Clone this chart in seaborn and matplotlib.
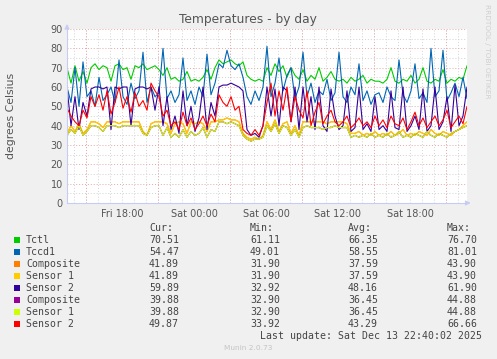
import pandas as pd
import seaborn as sns
import matplotlib.pyplot as plt
import matplotlib.dates as mdates
from matplotlib.patches import Rectangle

# --- data (5 min samples thinned to one every 20 min) ---
start = "2025-12-12 13:25"
step = "20min"

tctl = [70, 62, 71, 63, 68, 62, 70, 72, 69, 71,
        70, 63, 71, 72, 69, 70, 64, 71, 70, 72,
        69, 70, 71, 69, 66, 70, 64, 65, 63, 64,
        68, 63, 64, 63, 65, 69, 64, 70, 74, 72,
        73, 74, 72, 71, 73, 66, 64, 63, 64, 63,
        70, 66, 72, 68, 71, 65, 70, 66, 64, 69,
        63, 66, 64, 70, 63, 65, 68, 64, 63, 64,
        62, 65, 63, 64, 66, 62, 64, 63, 63, 62,
        64, 70, 63, 62, 64, 63, 66, 62, 64, 70,
        63, 62, 64, 63, 69, 62, 64, 63, 65, 64,
        71]
tccd1 = [60, 52, 70, 50, 73, 55, 58, 50, 65, 53,
         56, 60, 52, 74, 55, 51, 62, 54, 58, 78,
         52, 60, 55, 57, 80, 54, 58, 52, 56, 75,
         53, 58, 51, 60, 55, 77, 56, 62, 72, 70,
         79, 71, 69, 72, 65, 55, 51, 58, 53, 60,
         81, 55, 62, 75, 58, 66, 70, 54, 60, 78,
         55, 62, 52, 58, 56, 64, 53, 57, 78, 55,
         52, 60, 56, 72, 53, 58, 51, 56, 57, 52,
         60, 55, 53, 74, 56, 52, 58, 72, 54, 57,
         52, 80, 55, 58, 79, 53, 57, 62, 55, 65,
         54]
nvme1_s1 = [36, 40, 37, 41, 36, 38, 42, 42, 41, 39,
            42, 42, 42, 41, 42, 42, 42, 42, 42, 37,
            35, 41, 42, 42, 42, 41, 36, 41, 42, 41,
            36, 42, 41, 42, 41, 37, 42, 42, 43, 43,
            44, 43, 43, 42, 36, 34, 33, 34, 33, 35,
            42, 38, 43, 37, 41, 42, 36, 40, 35, 42,
            42, 42, 42, 42, 42, 41, 42, 42, 42, 42,
            41, 36, 36, 37, 35, 36, 35, 37, 35, 36,
            35, 37, 35, 36, 38, 35, 36, 35, 37, 36,
            35, 38, 36, 35, 37, 36, 35, 37, 38, 40,
            42]
nvme1_comp = list(nvme1_s1)  # composite == sensor 1
nvme1_s2 = [60, 40, 55, 38, 52, 45, 59, 60, 60, 59,
            60, 38, 60, 59, 60, 60, 40, 59, 60, 60,
            59, 60, 48, 60, 40, 55, 38, 45, 36, 58,
            40, 50, 37, 44, 60, 38, 52, 45, 60, 61,
            61, 62, 61, 60, 58, 38, 35, 36, 34, 40,
            60, 45, 59, 40, 60, 58, 42, 60, 38, 60,
            42, 55, 38, 60, 40, 37, 59, 45, 38, 40,
            58, 37, 39, 60, 38, 41, 37, 55, 38, 40,
            37, 58, 39, 38, 60, 37, 40, 45, 38, 59,
            37, 40, 60, 38, 42, 55, 37, 61, 40, 45,
            60]
nvme2_s1 = [35, 38, 36, 40, 35, 37, 40, 40, 39, 37,
            40, 40, 40, 39, 40, 40, 40, 40, 40, 36,
            35, 39, 40, 40, 35, 39, 34, 36, 34, 38,
            34, 37, 35, 36, 39, 34, 38, 37, 42, 42,
            41, 42, 41, 40, 35, 33, 32, 33, 33, 34,
            40, 37, 41, 36, 40, 39, 35, 38, 34, 39,
            40, 39, 39, 39, 38, 39, 39, 40, 39, 39,
            39, 34, 35, 34, 35, 34, 36, 34, 35, 34,
            36, 34, 35, 37, 34, 35, 34, 36, 35, 34,
            37, 35, 34, 36, 35, 34, 36, 37, 38, 39,
            40]
nvme2_comp = list(nvme2_s1)
nvme2_s2 = [49, 45, 42, 40, 48, 44, 55, 50, 56, 48,
            58, 46, 52, 60, 49, 55, 47, 57, 50, 53,
            48, 62, 58, 55, 45, 48, 40, 42, 38, 47,
            40, 44, 38, 41, 45, 40, 46, 42, 56, 52,
            50, 55, 48, 50, 38, 36, 35, 38, 35, 40,
            52, 62, 45, 58, 48, 60, 42, 55, 48, 44,
            58, 40, 47, 52, 41, 45, 48, 42, 40, 42,
            45, 39, 41, 44, 40, 42, 39, 45, 40, 43,
            39, 45, 41, 40, 44, 38, 42, 47, 40, 44,
            39, 42, 45, 40, 43, 48, 39, 42, 45, 41,
            50]

labels = ["Tctl", "Tccd1", "Composite", "Sensor 1", "Sensor 2",
          "Composite", "Sensor 1", "Sensor 2"]
colors = ["#00CC00", "#0066B3", "#FF8000", "#FFCC00", "#330099",
          "#990099", "#CCFF00", "#FF0000"]
series = [tctl, tccd1, nvme1_comp, nvme1_s1, nvme1_s2,
          nvme2_comp, nvme2_s1, nvme2_s2]

cur = ["70.51", "54.47", "41.89", "41.89", "59.89", "39.88", "39.88", "49.87"]
mins = ["61.11", "49.01", "31.90", "31.90", "32.92", "32.90", "32.90", "33.92"]
avgs = ["66.35", "58.55", "37.59", "37.59", "48.16", "36.45", "36.45", "43.29"]
maxs = ["76.70", "81.01", "43.90", "43.90", "61.90", "44.88", "44.88", "66.66"]

# --- long form table ---
times = pd.date_range(start, periods=len(tctl), freq=step)
keys = [f"{i}_{lab}" for i, lab in enumerate(labels)]
frames = []
for k, vals in zip(keys, series):
    frames.append(pd.DataFrame({"time": times, "value": vals, "key": k}))
df = pd.concat(frames, ignore_index=True)

# --- figure ---
sns.set_style("white")
plt.rcParams["font.family"] = ["DejaVu Sans"]
W, H = 497, 359
bg = "#F0F0F0"
fig = plt.figure(figsize=(W / 100, H / 100), dpi=100, facecolor=bg)
ax = fig.add_axes([67 / W, 1 - 203 / H, 400 / W, 174 / H])
ax.set_facecolor("white")

x0 = pd.Timestamp(start)
x1 = x0 + pd.Timedelta(minutes=5 * 400)
ax.set_xlim(x0, x1)
ax.set_ylim(0, 90)

# grid like rrdtool: grey minor, red major, both dotted
minor_c, major_c = "#D2D2D2", "#E6A8A8"
dot = (0, (1, 2))
for t in mdates.HourLocator().tick_values(x0, x1):
    ax.axvline(t, color=minor_c, lw=0.7, ls=dot, zorder=0)
for t in mdates.HourLocator(byhour=[3, 9, 15, 21]).tick_values(x0, x1):
    ax.axvline(t, color=major_c, lw=0.7, ls=dot, zorder=0)
for y in range(5, 90, 10):
    ax.axhline(y, color=minor_c, lw=0.7, ls=dot, zorder=0)
for y in range(10, 91, 10):
    ax.axhline(y, color=major_c, lw=0.7, ls=dot, zorder=0)

sns.lineplot(data=df, x="time", y="value", hue="key", hue_order=keys,
             palette=dict(zip(keys, colors)), linewidth=0.8,
             estimator=None, legend=False, ax=ax)

ax.xaxis.set_major_locator(mdates.HourLocator(byhour=[0, 6, 12, 18]))
ax.xaxis.set_major_formatter(mdates.DateFormatter("%a %H:%M"))
ax.set_yticks(range(0, 91, 10))
ax.tick_params(axis="both", length=0, labelsize=7, colors="#555555")
ax.tick_params(axis="x", pad=4)
ax.tick_params(axis="y", pad=3)
ax.set_xlabel("")
ax.set_ylabel("")

axis_c = "#C8CCF4"
for s in ["top", "right"]:
    ax.spines[s].set_visible(False)
for s in ["left", "bottom"]:
    ax.spines[s].set_color(axis_c)
    ax.spines[s].set_linewidth(0.8)
ax.annotate("", xy=(0, 1.045), xytext=(0, 0.99), xycoords="axes fraction",
            arrowprops=dict(arrowstyle="-|>", color=axis_c, lw=0.8,
                            mutation_scale=7), annotation_clip=False)
ax.annotate("", xy=(1.016, 0), xytext=(0.99, 0), xycoords="axes fraction",
            arrowprops=dict(arrowstyle="-|>", color=axis_c, lw=0.8,
                            mutation_scale=7), annotation_clip=False)

# --- texts ---
def fx(px):
    return px / W

def fy(py):
    return 1 - py / H

fig.text(fx(248), fy(20), "Temperatures - by day", ha="center", va="center",
         fontsize=8.8, color="#555555")
fig.text(fx(11), fy(116), "degrees Celsius", rotation=90, ha="center",
         va="center", fontsize=7.8, color="#555555")
fig.text(fx(487), fy(4), "RRDTOOL / TOBI OETIKER", rotation=270, ha="center",
         va="top", fontsize=5.3, color="#CFCFCF")

mono = dict(family="DejaVu Sans Mono", fontsize=7.1, color="#444444",
            va="center")
cols = [149, 250, 348, 447]
for cx, head in zip(cols, ["Cur:", "Min:", "Avg:", "Max:"]):
    fig.text(fx(cx), fy(228), head, **mono)
for i, lab in enumerate(labels):
    ry = 240 + 12 * i
    fig.patches.append(Rectangle((fx(14), fy(ry + 3)), 6 / W, 6 / H,
                                 transform=fig.transFigure,
                                 color=colors[i], lw=0))
    fig.text(fx(26), fy(ry), lab, **mono)
    for cx, v in zip(cols, [cur[i], mins[i], avgs[i], maxs[i]]):
        fig.text(fx(cx), fy(ry), v, **mono)

fig.text(fx(482), fy(336), "Last update: Sat Dec 13 22:40:02 2025",
         ha="right", **{k: v for k, v in mono.items()})
fig.text(fx(248), fy(348), "Munin 2.0.73", ha="center", va="center",
         fontsize=5.3, color="#C4C4C4")

fig.savefig("out.png", dpi=100, facecolor=bg)
